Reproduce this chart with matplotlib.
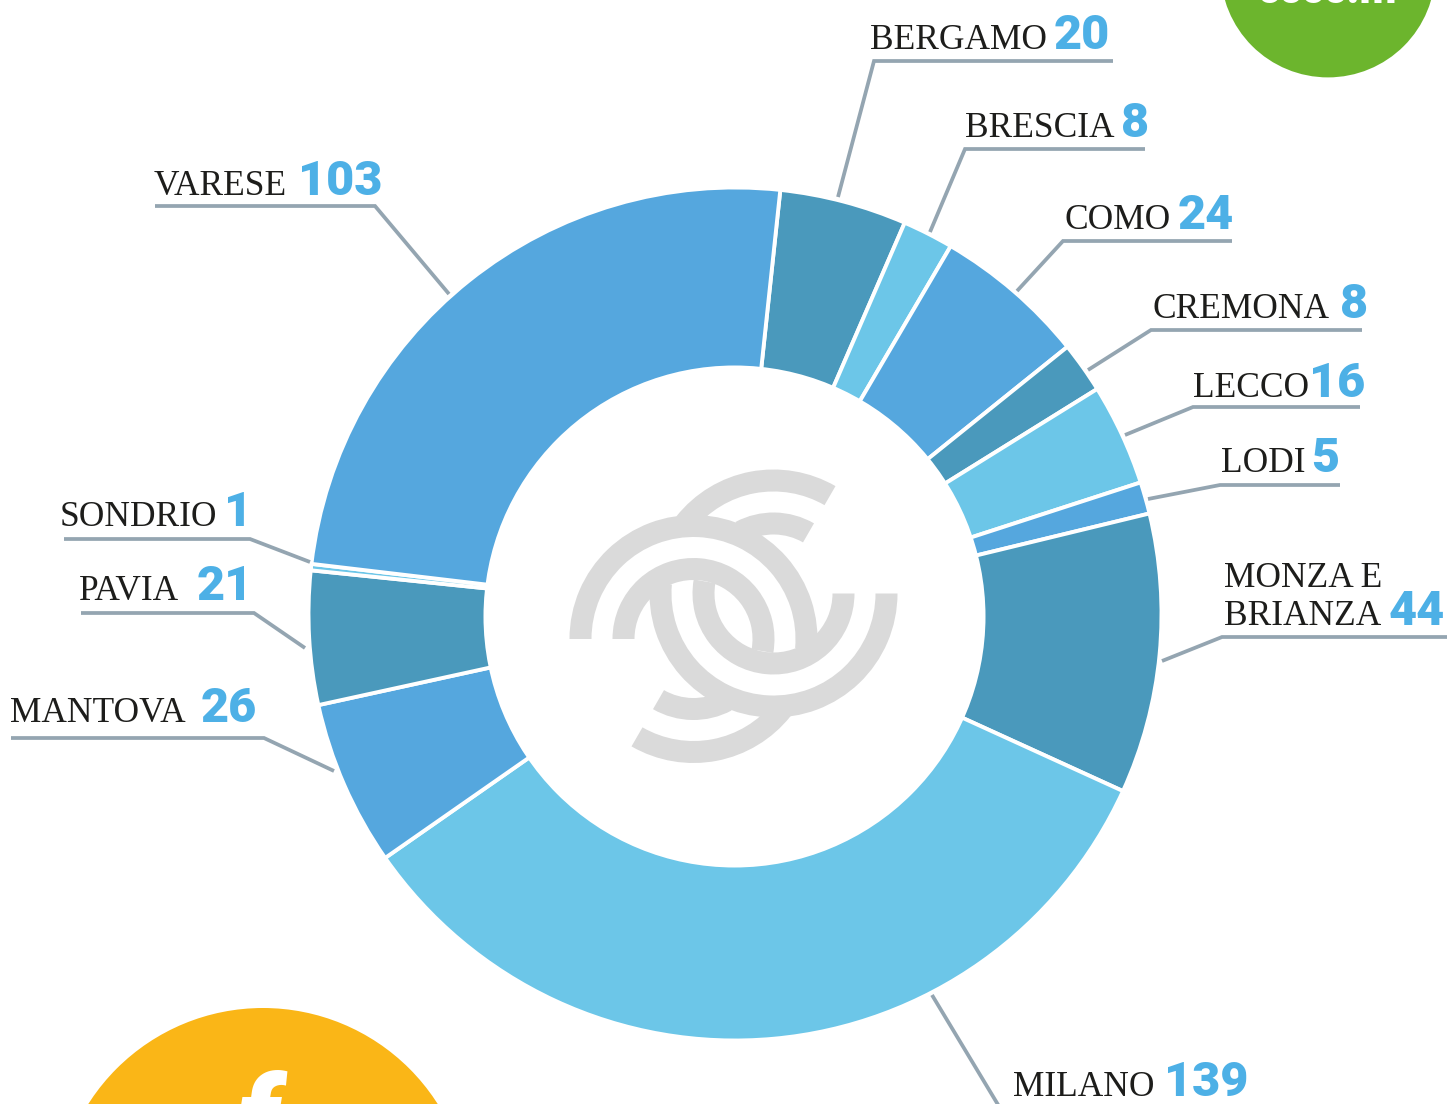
import matplotlib
matplotlib.use("Agg")
import matplotlib.pyplot as plt
from matplotlib.patches import Wedge, Circle

provinces = ["BERGAMO", "BRESCIA", "COMO", "CREMONA", "LECCO", "LODI", "MONZA E\nBRIANZA",
             "MILANO", "MANTOVA", "PAVIA", "SONDRIO", "VARESE"]
counts = [20, 8, 24, 8, 16, 5, 44, 139, 26, 21, 1, 103]

DARK = "#4A99BC"
LIGHT = "#6CC6E8"
MID = "#55A7DE"
colors = [DARK, LIGHT, MID, DARK, LIGHT, MID, DARK, LIGHT, MID, DARK, LIGHT, MID]

# label layout in image pixels: text x, baseline y, number x, leader line points
label_pos = [(870, 49), (965, 137), (1064, 229), (1152, 318), (1193, 397), (1221, 472),
             (1224, 625), (1013, 1096), (10, 722), (79, 600), (60, 526), (154, 195)]
number_x = [1054, 1121, 1178, 1340, 1309, 1311, 1389, 1164, 201, 197, 224, 298]
leaders = [
    [(838, 197), (874, 61), (1113, 61)],
    [(930, 232), (965, 149), (1145, 149)],
    [(1017, 291), (1063, 241), (1232, 241)],
    [(1088, 370), (1151, 330), (1362, 330)],
    [(1125, 435), (1193, 407), (1360, 407)],
    [(1148, 499), (1220, 485), (1340, 485)],
    [(1162, 661), (1222, 637), (1447, 637)],
    [(932, 995), (1000, 1108)],
    [(334, 771), (264, 738), (11, 738)],
    [(305, 648), (254, 613), (81, 613)],
    [(310, 562), (250, 539), (64, 539)],
    [(449, 294), (375, 206), (155, 206)],
]

W, H = 1449, 1104


def py(y):
    return H - y


fig = plt.figure(figsize=(W / 100, H / 100), dpi=100)
ax = fig.add_axes([0, 0, 1, 1])

# donut, the hole is a bit off centre in the original so it is cut with a circle
ax.pie(counts, colors=colors, center=(735, py(614)), radius=426.5, startangle=83.9, counterclock=False,
       frame=True, wedgeprops=dict(width=195, edgecolor="white", linewidth=2.8))
ax.add_patch(Circle((734.5, py(616.5)), 251, color="white", lw=0, zorder=3))
ax.set_xlim(0, W)
ax.set_ylim(0, H)
ax.set_aspect("equal")
ax.axis("off")

# corner badges
ax.add_patch(Circle((1328, py(-30)), 107.4, color="#6CB52D", lw=0))
ax.add_patch(Circle((263, py(1215)), 207, color="#FAB617", lw=0))
ax.text(1328, py(3), "cccc.m", color="white", fontsize=31, family="Roboto", weight="black",
        ha="center", va="baseline", clip_on=True)
ax.text(258, py(1160), "f", color="white", fontsize=85, family="Roboto", weight="black",
        style="italic", ha="center", va="baseline", clip_on=True)

# logo in the middle, two centres and the same rings on both
GREY = "#DADADA"
c_left = (693.5, py(639))
c_right = (773.5, py(593.5))
for c, rot in ((c_right, 0), (c_left, 180)):
    ax.add_patch(Wedge(c, 124, 175 + rot, 360 + rot, width=22, color=GREY, lw=0, zorder=4))
    ax.add_patch(Wedge(c, 81, 170 + rot, 360 + rot, width=22, color=GREY, lw=0, zorder=4))
    ax.add_patch(Wedge(c, 124, 60 + rot, 141.6 + rot, width=22, color=GREY, lw=0, zorder=4))
    ax.add_patch(Wedge(c, 81, 60 + rot, 118 + rot, width=22, color=GREY, lw=0, zorder=4))

# leader lines and labels
for name, n, pos, nx, pts in zip(provinces, counts, label_pos, number_x, leaders):
    ax.plot([p[0] for p in pts], [py(p[1]) for p in pts], color="#94A5B1", lw=2.7,
            solid_capstyle="butt", solid_joinstyle="miter", zorder=5)
    lines = name.split("\n")
    x, y = pos
    if len(lines) == 2:
        ax.text(x, py(y - 38), lines[0], fontsize=25.5, family="Liberation Serif", color="#1d1d1b",
                ha="left", va="baseline")
    ax.text(x, py(y), lines[-1], fontsize=25.5, family="Liberation Serif", color="#1d1d1b",
            ha="left", va="baseline")
    ax.text(nx, py(y), str(n), fontsize=35, family="Roboto", weight="black",
            color="#4DB0E6", ha="left", va="baseline")

fig.savefig("out.png", dpi=100)
